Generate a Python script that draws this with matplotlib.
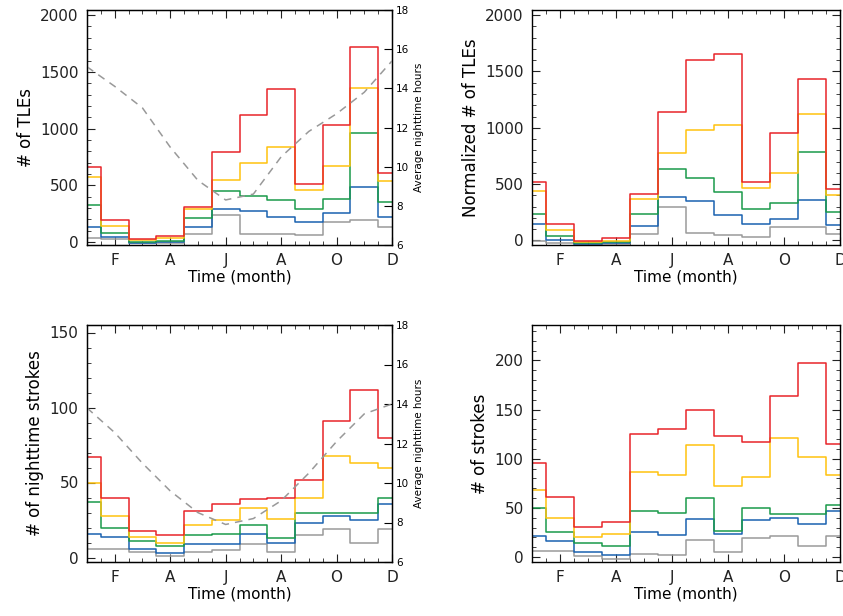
import numpy as np
import matplotlib
matplotlib.use("Agg")
import matplotlib.pyplot as plt
from matplotlib.ticker import MultipleLocator

months = np.arange(1, 13)
month_ticks = [2, 4, 6, 8, 10, 12]
month_labels = ['F', 'A', 'J', 'A', 'O', 'D']
colors = ['#e8242a', '#ffc20e', '#1a9a4a', '#1a62b0', '#9a9a9a']

# top-left: # of TLEs
tle_red = [665, 195, 30, 50, 310, 790, 1120, 1345, 515, 1035, 1720, 605]
tle_yellow = [570, 140, 15, 35, 290, 545, 695, 840, 460, 670, 1355, 540]
tle_green = [330, 85, 0, 10, 210, 450, 405, 370, 295, 380, 965, 355]
tle_blue = [130, 45, -10, 0, 130, 295, 275, 220, 180, 255, 485, 220]
tle_gray = [40, 25, -10, -5, 70, 240, 75, 70, 60, 175, 195, 130]
hours_top = [15.1, 14.1, 13.0, 11.0, 9.3, 8.3, 8.6, 10.5, 11.8, 12.7, 13.8, 15.4]

# top-right: normalized # of TLEs
ntle_red = [517, 145, -6, 24, 411, 1143, 1598, 1654, 523, 954, 1433, 458]
ntle_yellow = [437, 92, -15, -6, 366, 780, 978, 1022, 464, 603, 1120, 405]
ntle_green = [239, 44, -20, -15, 236, 635, 555, 431, 281, 331, 783, 251]
ntle_blue = [142, 6, -35, -24, 133, 390, 352, 225, 148, 195, 360, 136]
ntle_gray = [-6, -18, -38, -35, 56, 298, 68, 53, 30, 118, 124, 62]

# bottom-left: # of nighttime strokes
ns_red = [67, 40, 18, 15, 31, 36, 39, 40, 52, 91, 112, 80]
ns_yellow = [50, 28, 14, 10, 22, 25, 33, 26, 40, 68, 63, 60]
ns_green = [37, 20, 11, 8, 15, 16, 22, 13, 30, 30, 30, 40]
ns_blue = [16, 14, 6, 3, 9, 9, 16, 10, 23, 28, 25, 36]
ns_gray = [6, 6, 4, 1, 4, 5, 9, 4, 15, 19, 10, 19]
hours_bottom = [13.8, 12.55, 11.0, 9.6, 8.5, 7.9, 8.2, 9.1, 10.5, 12.1, 13.5, 14.0]

# bottom-right: # of strokes
st_red = [96, 61, 31, 36, 125, 130, 150, 123, 117, 164, 197, 115]
st_yellow = [68, 40, 20, 23, 87, 83, 114, 72, 81, 121, 102, 83]
st_green = [50, 26, 14, 11, 47, 45, 60, 27, 50, 44, 44, 53]
st_blue = [21, 16, 5, 2, 26, 22, 39, 23, 38, 40, 34, 47]
st_gray = [6, 6, 1, -2, 3, 2, 17, 5, 19, 21, 11, 21]

W, H = 843, 616
fig = plt.figure(figsize=(W / 100, H / 100), dpi=100)
plt.rcParams['font.family'] = 'DejaVu Sans'


def make_ax(x0, y0, x1, y1):
    return fig.add_axes([x0 / W, 1 - y1 / H, (x1 - x0) / W, (y1 - y0) / H])


def style(ax, ylim, major, minor, ylabel):
    ax.set_xlim(1, 12)
    ax.set_ylim(*ylim)
    ax.set_xticks(month_ticks)
    ax.set_xticklabels(month_labels)
    ax.xaxis.set_minor_locator(MultipleLocator(0.5))
    ax.yaxis.set_major_locator(MultipleLocator(major))
    ax.yaxis.set_minor_locator(MultipleLocator(minor))
    ax.tick_params(which='both', direction='in', top=True, right=True,
                   labelsize=11, colors='#222222', pad=6)
    ax.tick_params(which='major', length=6)
    ax.tick_params(which='minor', length=3)
    ax.set_xlabel('Time (month)', fontsize=11, labelpad=1)
    ax.set_ylabel(ylabel, fontsize=12)
    for s in ax.spines.values():
        s.set_linewidth(1.0)


def steps(ax, series):
    for vals, c in zip(series, colors[::-1]):
        ax.step(months, vals, where='mid', color=c, lw=1.1)


def hours(ax, vals):
    ax2 = ax.twinx()
    ax2.plot(months, vals, color='#999999', ls=(0, (5, 4)), lw=1.1)
    ax2.set_ylim(6, 18)
    ax2.yaxis.set_major_locator(MultipleLocator(2))
    ax2.tick_params(direction='in', length=6, labelsize=7.5, pad=3)
    ax2.set_ylabel('Average nighttime hours', fontsize=7.5, labelpad=3)


ax = make_ax(87, 10, 392, 245)
steps(ax, [tle_gray, tle_blue, tle_green, tle_yellow, tle_red])
style(ax, (-25, 2045), 500, 100, '# of TLEs')
hours(ax, hours_top)

ax = make_ax(532, 10, 840, 245)
steps(ax, [ntle_gray, ntle_blue, ntle_green, ntle_yellow, ntle_red])
style(ax, (-40, 2045), 500, 100, 'Normalized # of TLEs')

ax = make_ax(87, 325, 392, 562)
steps(ax, [ns_gray, ns_blue, ns_green, ns_yellow, ns_red])
style(ax, (-3, 155), 50, 10, '# of nighttime strokes')
hours(ax, hours_bottom)

ax = make_ax(532, 325, 840, 562)
steps(ax, [st_gray, st_blue, st_green, st_yellow, st_red])
style(ax, (-5, 236), 50, 10, '# of strokes')

fig.savefig('out.png', dpi=100)
